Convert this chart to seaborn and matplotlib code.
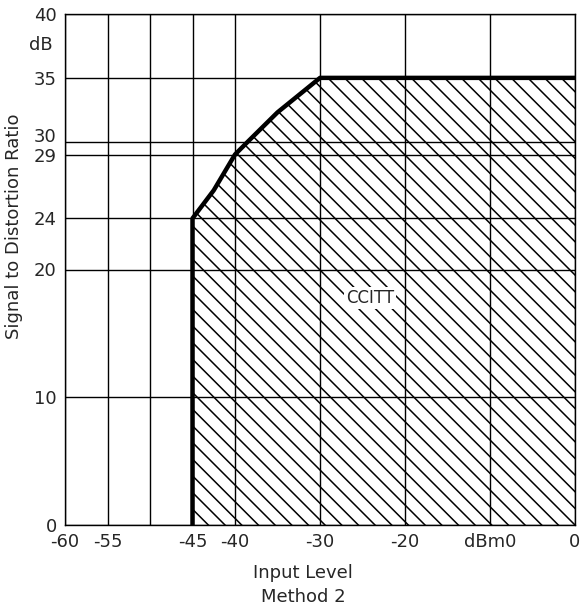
import matplotlib
matplotlib.use("Agg")
import matplotlib.pyplot as plt
import seaborn as sns
import pandas as pd

# Data
input_level = [-45.0, -45.0, -42.5, -40.0, -38.5, -35.0, -30.0, 0.0]
sdr_limit = [0.0, 24.0, 26.2, 29.0, 30.0, 32.3, 35.0, 35.0]

x_grid = [-60, -55, -50, -45, -40, -30, -20, -10, 0]
x_labels = ["-60", "-55", "", "-45", "-40", "-30", "-20", "dBm0", "0"]
y_grid = [0, 10, 20, 24, 29, 30, 35, 40]
y_labels = ["0", "10", "20", "24", "29", "30", "35", "40"]

sns.set_style("white")
plt.rcParams["font.family"] = ["DejaVu Sans"]
plt.rcParams["hatch.linewidth"] = 1.1

fig = plt.figure(figsize=(5.81, 6.11), dpi=100)
ax = fig.add_axes([65 / 581, 1 - 525 / 611, 510 / 581, 511 / 611])

df = pd.DataFrame({"level": input_level, "sdr": sdr_limit})

for xv in x_grid:
    ax.axvline(xv, color="black", lw=1.0, zorder=1)
for yv in y_grid:
    ax.axhline(yv, color="black", lw=1.0, zorder=1)

ax.fill_between(df["level"], 0, df["sdr"], facecolor="none", edgecolor="black",
                hatch="\\\\", linewidth=0, zorder=2)
sns.lineplot(data=df, x="level", y="sdr", sort=False, estimator=None,
             color="black", lw=3.2, ax=ax, zorder=3)

ax.text(-24.1, 17.8, "CCITT", ha="center", va="center", fontsize=12,
        bbox=dict(facecolor="white", edgecolor="none", pad=1.5), zorder=4)

ax.set_xlim(-60, 0)
ax.set_ylim(0, 40)
ax.set_xticks(x_grid)
ax.set_xticklabels(x_labels)
ax.set_yticks(y_grid)
ax.set_yticklabels(y_labels)
ax.tick_params(length=0, labelsize=13, pad=6)
ylabs = ax.get_yticklabels()
ylabs[5].set_verticalalignment("baseline")
ax.set_xlabel("")
ax.set_ylabel("")
for s in ax.spines.values():
    s.set_color("black")
    s.set_linewidth(1.0)

ax.text(-61.5, 37.6, "dB", ha="right", va="center", fontsize=13,
        transform=ax.transData, clip_on=False)

fig.text(14 / 581, 1 - 226 / 611, "Signal to Distortion Ratio", rotation=90,
         ha="center", va="center", fontsize=13)
fig.text(303 / 581, 1 - 573 / 611, "Input Level", ha="center", va="center", fontsize=13)
fig.text(303 / 581, 1 - 597 / 611, "Method 2", ha="center", va="center", fontsize=13)

fig.savefig("out.png", dpi=100)
